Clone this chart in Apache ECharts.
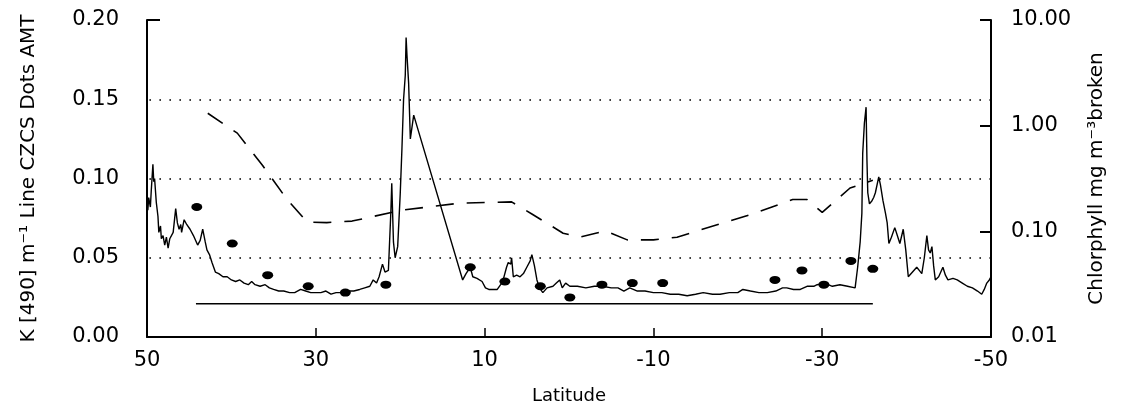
<!DOCTYPE html>
<html>
<head>
<meta charset="utf-8">
<script src="https://cdn.jsdelivr.net/npm/echarts@6/dist/echarts.min.js"></script>
<style>
    html, body { margin: 0; padding: 0; background: #fff; }
    #kChart { width: 1121px; height: 405px; }
</style>
</head>
<body>
<div id="kChart"></div>
<script>

/// DATA ///

// CZCS K(490) transect (solid line), latitude vs K
var czcsLat = [50.0, 49.9, 49.8, 49.6, 49.5, 49.3, 49.2, 49.1, 48.9, 48.7, 48.6, 48.4, 48.3, 48.1, 47.9, 47.7, 47.5, 47.3, 47.1, 46.9,
    46.6, 46.4, 46.2, 46.0, 45.9, 45.6, 45.3, 44.9, 44.5, 44.0, 43.7, 43.4, 43.1, 42.9, 42.6, 42.3, 41.9, 41.5, 41.0, 40.5,
    40.0, 39.5, 39.0, 38.5, 38.0, 37.6, 37.2, 36.6, 36.0, 35.5, 35.0, 34.4, 33.8, 33.1, 32.5, 31.8, 31.2, 30.6, 30.0, 29.4,
    28.8, 28.2, 27.6, 27.0, 26.2, 25.5, 24.8, 24.2, 23.6, 23.2, 22.8, 22.5, 22.1, 21.8, 21.4, 21.1, 21.0, 20.8, 20.6, 20.3,
    20.0, 19.8, 19.6, 19.4, 19.3, 19.2, 19.0, 18.8, 18.7, 18.4, 12.6, 12.2, 11.7, 11.4, 10.9, 10.3, 9.9, 9.5, 8.9, 8.5,
    8.1, 7.8, 7.4, 7.2, 6.9, 6.8, 6.6, 6.2, 5.8, 5.4, 5.0, 4.6, 4.4, 4.1, 3.8, 3.5, 3.1, 2.6, 1.9, 1.5,
    1.1, 0.8, 0.4, -0.1, -1.0, -2.0, -3.0, -4.0, -5.0, -5.8, -6.5, -7.2, -8.1, -9.0, -10.0, -11.0, -12.0, -13.0, -14.0, -15.0,
    -15.9, -17.0, -17.9, -19.0, -20.0, -20.6, -21.5, -22.5, -23.5, -24.5, -25.3, -25.8, -26.6, -27.4, -28.2, -29.0, -29.4, -30.3, -31.2, -32.1,
    -33.0, -33.9, -34.2, -34.5, -34.7, -34.8, -35.0, -35.2, -35.3, -35.4, -35.6, -35.9, -36.1, -36.3, -36.5, -36.7, -36.9, -37.2, -37.5, -37.7,
    -37.9, -38.2, -38.6, -38.9, -39.2, -39.6, -39.9, -40.2, -40.7, -41.2, -41.5, -41.8, -42.1, -42.4, -42.6, -42.8, -43.0, -43.2, -43.4, -43.8,
    -44.3, -44.6, -44.9, -45.5, -46.0, -46.6, -47.2, -47.8, -48.4, -48.9, -49.2, -49.5, -49.8, -50.0];
var czcsK = [0.085, 0.080, 0.088, 0.082, 0.092, 0.109, 0.098, 0.100, 0.085, 0.076, 0.066, 0.070, 0.062, 0.064, 0.058, 0.063, 0.056, 0.062, 0.061, 0.066,
    0.081, 0.072, 0.068, 0.071, 0.066, 0.074, 0.071, 0.068, 0.064, 0.058, 0.061, 0.068, 0.060, 0.055, 0.052, 0.047, 0.041, 0.040, 0.038, 0.038,
    0.036, 0.035, 0.036, 0.034, 0.033, 0.035, 0.033, 0.032, 0.033, 0.031, 0.030, 0.029, 0.029, 0.028, 0.028, 0.030, 0.029, 0.028, 0.028, 0.028,
    0.029, 0.027, 0.028, 0.028, 0.029, 0.029, 0.030, 0.031, 0.032, 0.036, 0.034, 0.038, 0.046, 0.041, 0.042, 0.080, 0.097, 0.060, 0.050, 0.057,
    0.090, 0.118, 0.150, 0.165, 0.189, 0.178, 0.160, 0.125, 0.124, 0.140, 0.036, 0.040, 0.044, 0.038, 0.037, 0.035, 0.031, 0.030, 0.030, 0.030,
    0.033, 0.036, 0.044, 0.047, 0.046, 0.050, 0.038, 0.039, 0.038, 0.040, 0.044, 0.048, 0.052, 0.045, 0.036, 0.031, 0.028, 0.031, 0.032, 0.034,
    0.036, 0.031, 0.034, 0.032, 0.032, 0.031, 0.032, 0.032, 0.031, 0.031, 0.029, 0.031, 0.029, 0.029, 0.028, 0.028, 0.027, 0.027, 0.026, 0.027,
    0.028, 0.027, 0.027, 0.028, 0.028, 0.030, 0.029, 0.028, 0.028, 0.029, 0.031, 0.031, 0.030, 0.030, 0.032, 0.032, 0.033, 0.034, 0.032, 0.033,
    0.032, 0.031, 0.044, 0.060, 0.078, 0.116, 0.135, 0.145, 0.112, 0.091, 0.084, 0.086, 0.088, 0.091, 0.090, 0.101, 0.096, 0.086, 0.078, 0.072,
    0.059, 0.063, 0.069, 0.064, 0.059, 0.068, 0.055, 0.038, 0.041, 0.044, 0.042, 0.040, 0.050, 0.064, 0.055, 0.053, 0.057, 0.045, 0.036, 0.038,
    0.044, 0.039, 0.036, 0.037, 0.036, 0.034, 0.032, 0.031, 0.029, 0.027, 0.030, 0.034, 0.036, 0.038];

// AMT station measurements (dots)
var amtLat = [44.1, 39.9, 35.7, 30.9, 26.5, 21.7, 11.7, 7.6, 3.4, -0.1, -3.9, -7.5, -11.1, -24.4, -27.6, -30.2, -33.4, -36.0];
var amtK = [0.082, 0.059, 0.039, 0.032, 0.028, 0.033, 0.044, 0.035, 0.032, 0.025, 0.033, 0.034, 0.034, 0.036, 0.042, 0.033, 0.048, 0.043];

// chlorophyll (broken line, right log axis)
var chlLat = [42.8, 39.3, 36.3, 33.4, 31.0, 28.7, 25.7, 19.7, 12.9, 6.8, 4.4, 0.7, -1.3, -4.3, -6.9, -10.0, -12.8, -15.9, -21.4, -26.5,
    -28.2, -30.0, -33.3, -36.0];
var chlVal = [1.31, 0.85, 0.42, 0.20, 0.122, 0.121, 0.125, 0.159, 0.185, 0.19, 0.146, 0.096, 0.088, 0.101, 0.083, 0.083, 0.088, 0.105, 0.143, 0.20,
    0.20, 0.151, 0.257, 0.305];

// flat reference line
var refLat = [44.2, -36.0];
var refK = [0.021, 0.021];

// dotted gridlines and tick labels
var gridValues = [0.05, 0.10, 0.15];
var latLabels = [50, 30, 10, -10, -30, -50];
var latTicks = [30, 10, -10, -30];

// pair up two arrays into [x, y] points
function toPoints(xs, ys) {
    var pts = [];
    for (var i = 0; i < xs.length; i++) {
        pts.push([xs[i], ys[i]]);
    }
    return pts;
}

/// CHART ///

var chart = echarts.init(document.getElementById('kChart'));

var tickFont = {
    fontFamily: 'DejaVu Sans',
    fontSize: 21,
    color: '#000'
};

var chartOptions = {
    animation: false,
    backgroundColor: '#fff',
    grid: {
        left: 147,
        right: 130,
        top: 20,
        bottom: 68,
        outerBoundsMode: 'none'
    },
    xAxis: {
        type: 'value',
        min: -50,
        max: 50,
        interval: 10,
        inverse: true,
        name: 'Latitude',
        nameLocation: 'middle',
        nameGap: 50,
        nameTextStyle: { fontFamily: 'DejaVu Sans', fontSize: 18, color: '#000' },
        axisLine: { show: true, onZero: false, lineStyle: { color: '#000', width: 2 } },
        axisTick: { show: true, inside: true, length: 9, customValues: latTicks, lineStyle: { color: '#000', width: 1.5 } },
        axisLabel: Object.assign({ margin: 13, customValues: latLabels }, tickFont),
        splitLine: { show: false }
    },
    yAxis: [
        {
            type: 'value',
            min: 0,
            max: 0.2,
            interval: 0.05,
            name: 'K [490] m\u207B\u00B9 Line CZCS Dots AMT',
            nameLocation: 'middle',
            nameRotate: 90,
            nameGap: 108,
            nameTextStyle: { fontFamily: 'DejaVu Sans', fontSize: 20, color: '#000' },
            axisLine: { show: true, onZero: false, lineStyle: { color: '#000', width: 2 } },
            axisTick: { show: true, inside: true, length: 13, customValues: [0.2], lineStyle: { color: '#000', width: 2 } },
            axisLabel: Object.assign({
                margin: 28,
                formatter: function (v) { return v.toFixed(2); }
            }, tickFont),
            splitLine: { show: false }
        },
        {
            type: 'log',
            logBase: 10,
            min: 0.01,
            max: 10,
            name: 'Chlorphyll mg m\u207B\u00B3broken',
            nameLocation: 'middle',
            nameRotate: 90,
            nameGap: 96,
            nameTextStyle: { fontFamily: 'DejaVu Sans', fontSize: 20, color: '#000' },
            axisLine: { show: true, onZero: false, lineStyle: { color: '#000', width: 2 } },
            axisTick: { show: true, inside: true, length: 11, lineStyle: { color: '#000', width: 2 } },
            axisLabel: Object.assign({
                margin: 20,
                formatter: function (v) { return v.toFixed(2); }
            }, tickFont),
            splitLine: { show: false }
        }
    ],
    series: [
        {
            name: 'CZCS',
            type: 'line',
            yAxisIndex: 0,
            data: toPoints(czcsLat, czcsK),
            showSymbol: false,
            lineStyle: { color: '#000', width: 1.4 },
            markLine: {
                silent: true,
                symbol: 'none',
                label: { show: false },
                lineStyle: { color: '#000', width: 1.6, type: [1.6, 8.4] },
                data: gridValues.map(function (v) { return { yAxis: v }; })
            },
            z: 3
        },
        {
            name: 'Reference',
            type: 'line',
            yAxisIndex: 0,
            data: toPoints(refLat, refK),
            showSymbol: false,
            lineStyle: { color: '#000', width: 1.6 }
        },
        {
            name: 'AMT',
            type: 'scatter',
            yAxisIndex: 0,
            data: toPoints(amtLat, amtK),
            symbol: 'circle',
            symbolSize: [11, 8],
            itemStyle: { color: '#000', opacity: 1 },
            z: 4
        },
        {
            name: 'Chlorophyll',
            type: 'line',
            yAxisIndex: 1,
            data: toPoints(chlLat, chlVal),
            showSymbol: false,
            lineStyle: { color: '#000', width: 1.6, type: [18, 13] }
        }
    ]
};

chart.setOption(chartOptions);

</script>
</body>
</html>
